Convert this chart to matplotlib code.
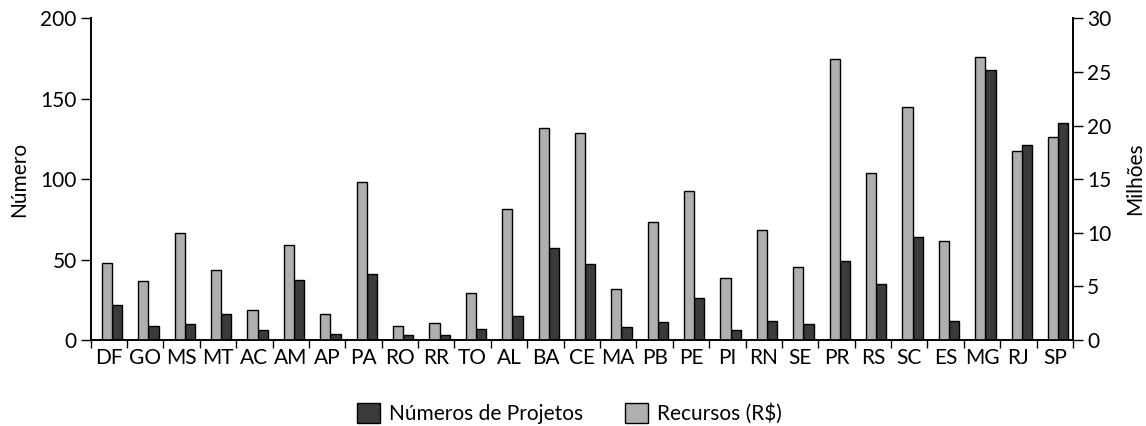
import numpy as np
import matplotlib
matplotlib.use("Agg")
import matplotlib.pyplot as plt
from matplotlib.patches import Patch

plt.rcParams['font.family'] = ['Lato', 'DejaVu Sans']

# States (UF)
estados = ["DF", "GO", "MS", "MT", "AC", "AM", "AP", "PA", "RO", "RR", "TO",
           "AL", "BA", "CE", "MA", "PB", "PE", "PI", "RN", "SE",
           "PR", "RS", "SC", "ES", "MG", "RJ", "SP"]

# Número de projetos (left axis)
num_projetos = [22, 9, 10, 16, 6, 37, 4, 41, 3, 3, 7,
                15, 57, 47, 8, 11, 26, 6, 12, 10,
                49, 35, 64, 12, 168, 121, 135]

# Recursos em milhões de R$ (right axis)
recursos = [7.2, 5.5, 10.0, 6.5, 2.8, 8.9, 2.4, 14.7, 1.3, 1.6, 4.4,
            12.2, 19.8, 19.3, 4.8, 11.0, 13.9, 5.8, 10.3, 6.8,
            26.2, 15.6, 21.7, 9.2, 26.4, 17.6, 18.9]

COR_ESCURA = "#3b3b3b"
COR_CLARA = "#afafaf"
LARG = 0.28
FS = 15

fig = plt.figure(figsize=(11.46, 4.26), dpi=100)
ax = fig.add_axes([0.0791, 0.2019, 0.8572, 0.7551])
ax2 = ax.twinx()

x = np.arange(len(estados))
ax2.bar(x - 0.05, recursos, width=LARG, color=COR_CLARA, edgecolor="black", linewidth=1.0)
ax.bar(x + 0.23, num_projetos, width=LARG, color=COR_ESCURA, edgecolor="black", linewidth=1.0)

ax.set_xlim(-0.5, len(estados) - 0.5)
ax.set_ylim(0, 200)
ax2.set_ylim(0, 30)
ax.set_yticks([0, 50, 100, 150, 200])
ax2.set_yticks([0, 5, 10, 15, 20, 25, 30])

# boundary ticks between categories, labels centred
ax.set_xticks(np.arange(len(estados) + 1) - 0.5)
ax.set_xticklabels([])
ax.set_xticks(x, minor=True)
ax.set_xticklabels(estados, minor=True)
ax.tick_params(axis="x", which="major", direction="out", length=6, width=1)
ax.tick_params(axis="x", which="minor", length=0, labelsize=FS, pad=6)
ax.tick_params(axis="y", direction="out", length=7, width=1, labelsize=FS, pad=3)
ax2.tick_params(axis="y", direction="out", length=7, width=1, labelsize=FS, pad=3)

for a in (ax, ax2):
    a.spines["top"].set_visible(False)
    for s in ("left", "right", "bottom"):
        a.spines[s].set_linewidth(1.2)

ax.set_ylabel("Número", fontsize=FS, labelpad=8)
ax2.set_ylabel("Milhões", fontsize=FS, labelpad=10)

handles = [Patch(facecolor=COR_ESCURA, edgecolor="black", label="Números de Projetos"),
           Patch(facecolor=COR_CLARA, edgecolor="black", label="Recursos (R$)")]
fig.legend(handles=handles, loc="center", bbox_to_anchor=(0.497, 0.03), ncol=2,
           frameon=False, fontsize=FS, handlelength=1.1, handleheight=1.1,
           columnspacing=2.0, handletextpad=0.45)

fig.savefig("out.png", dpi=100)
